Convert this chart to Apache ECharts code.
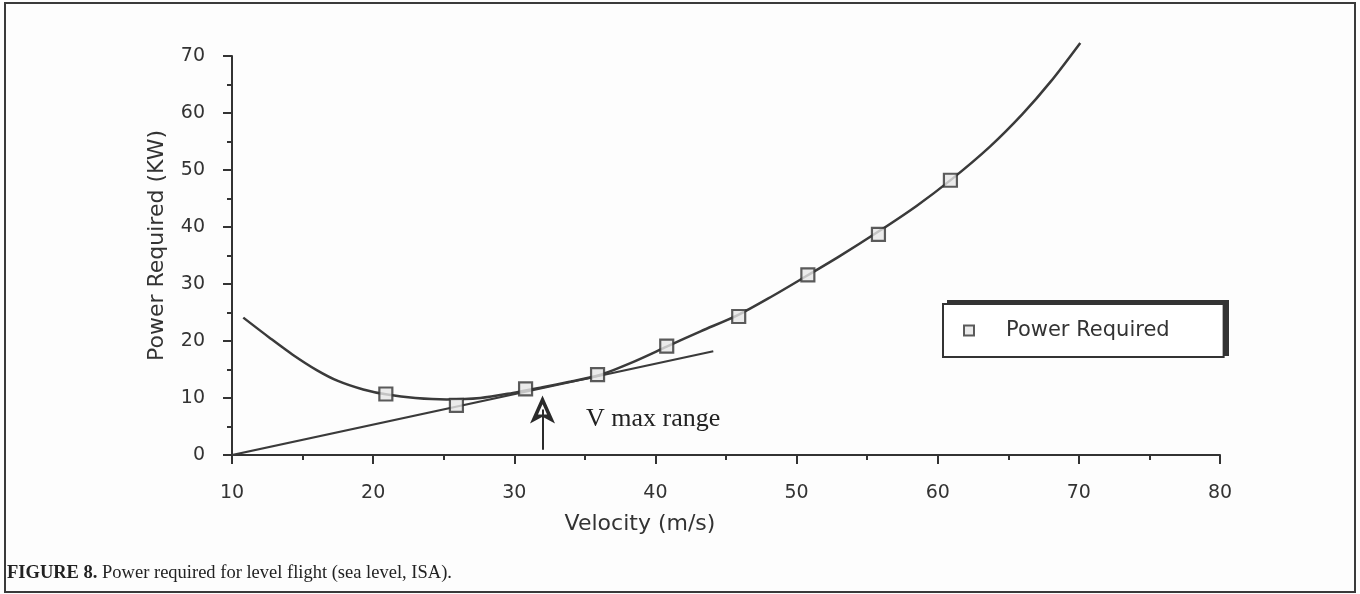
<!DOCTYPE html>
<html>
<head>
<meta charset="UTF-8" />
<script src="https://cdn.jsdelivr.net/npm/echarts@6/dist/echarts.min.js"></script>
<style>
  html, body { margin: 0; padding: 0; background: #fdfdfd; }
  #chart { width: 1360px; height: 594px; }
</style>
</head>
<body>
<div id="chart"></div>
<script>
// measured points (velocity m/s, power kW)
const pointV = [20.9, 25.9, 30.8, 35.9, 40.8, 45.9, 50.8, 55.8, 60.9];
const pointP = [10.7, 8.7, 11.6, 14.1, 19.1, 24.3, 31.6, 38.7, 48.2];

// fitted power-required curve, traced
const curveV = [10.8, 12.7, 14.3, 16.0, 17.5, 19.3, 21.0, 23.0, 25.2, 27.6, 29.9, 32.0, 34.0, 36.0, 38.4,
  40.8, 43.2, 45.8, 48.3, 50.7, 53.0, 55.8, 58.5, 61.0, 63.7, 66.0, 68.0, 70.1];
const curveP = [24.1, 20.5, 17.6, 14.9, 13.0, 11.5, 10.6, 10.0, 9.75, 10.0, 10.9, 11.9, 12.9, 14.0, 16.3,
  19.0, 21.7, 24.5, 27.9, 31.4, 34.8, 39.2, 43.7, 48.4, 54.1, 59.8, 65.5, 72.3];

// tangent from origin (max range)
const tangentV = [10.0, 44.1];
const tangentP = [0.0, 18.2];

// V max range arrow (shaft start, arrowhead centre)
const arrowV = 32.0;
const arrowFrom = 0.9;
const arrowTo = 8.0;

const xTicks = { min: 10, max: 80, interval: 10 };
const yTicks = { min: 0, max: 70, interval: 10 };

const INK = '#333';
const SANS = '"DejaVu Sans", sans-serif';
const SERIF = '"Liberation Serif", "DejaVu Serif", serif';

const zip = (a, b) => a.map((v, i) => [v, b[i]]);

const chart = echarts.init(document.getElementById('chart'));
chart.setOption({
  backgroundColor: '#fdfdfd',
  animation: false,
  grid: { left: 232, right: 140, top: 56, bottom: 139 },
  legend: {
    data: ['Power Required'],
    left: 943,
    top: 304,
    z: 5,
    padding: [16, 54, 16, 20],
    itemWidth: 10,
    itemHeight: 10,
    backgroundColor: '#fff',
    borderColor: INK,
    borderWidth: 2,
    textStyle: { fontFamily: SANS, fontSize: 21, color: INK, padding: [0, 0, 0, 27] }
  },
  xAxis: {
    type: 'value',
    min: xTicks.min,
    max: xTicks.max,
    interval: xTicks.interval,
    name: 'Velocity (m/s)',
    nameLocation: 'middle',
    nameGap: 58,
    nameTextStyle: { fontFamily: SANS, fontSize: 22, color: INK, padding: [0, 172, 0, 0] },
    axisLine: { lineStyle: { color: INK, width: 2 } },
    axisTick: { show: true, length: 9, lineStyle: { color: INK, width: 2 } },
    minorTick: { show: true, splitNumber: 2, length: 5, lineStyle: { color: INK, width: 2 } },
    axisLabel: { margin: 29, fontFamily: SANS, fontSize: 19, color: INK },
    splitLine: { show: false }
  },
  yAxis: {
    type: 'value',
    min: yTicks.min,
    max: yTicks.max,
    interval: yTicks.interval,
    name: 'Power Required (KW)',
    nameLocation: 'middle',
    nameGap: 64,
    nameTextStyle: { fontFamily: SANS, fontSize: 22, color: INK, padding: [0, 0, 0, 20] },
    axisLine: { show: true, lineStyle: { color: INK, width: 2 } },
    axisTick: { show: true, length: 9, lineStyle: { color: INK, width: 2 } },
    minorTick: { show: true, splitNumber: 2, length: 5, lineStyle: { color: INK, width: 2 } },
    axisLabel: { margin: 27, fontFamily: SANS, fontSize: 19, color: INK },
    splitLine: { show: false }
  },
  series: [
    {
      name: 'curve',
      type: 'line',
      data: zip(curveV, curveP),
      smooth: 0.3,
      showSymbol: false,
      clip: false,
      lineStyle: { color: '#3a3a3a', width: 2.5 },
      z: 2
    },
    {
      name: 'tangent',
      type: 'line',
      data: zip(tangentV, tangentP),
      showSymbol: false,
      lineStyle: { color: '#3a3a3a', width: 2.2 },
      markLine: {
        silent: true,
        symbol: ['none', 'path://M11,0 L22,25 L11,19 L0,25 Z M11,8 L7,17 L15,17 Z'],
        symbolSize: [25, 28],
        label: { show: false },
        lineStyle: { color: '#2a2a2a', width: 2, type: 'solid' },
        data: [[{ coord: [arrowV, arrowFrom] }, { coord: [arrowV, arrowTo] }]]
      },
      z: 2
    },
    {
      name: 'Power Required',
      type: 'scatter',
      data: zip(pointV, pointP),
      symbol: 'rect',
      symbolSize: 13,
      itemStyle: { color: '#e6e6e6', borderColor: '#333', borderWidth: 2.2 },
      z: 3
    }
  ],
  graphic: [
    {
      type: 'rect',
      silent: true,
      z: -1,
      shape: { x: 5, y: 3, width: 1350, height: 589 },
      style: { fill: 'none', stroke: '#3a3a3a', lineWidth: 2 }
    },
    {
      // legend drop shadow (thick top and right edge)
      type: 'rect',
      silent: true,
      z: 4,
      shape: { x: 947, y: 300, width: 282, height: 56 },
      style: { fill: '#333' }
    },
    {
      type: 'text',
      left: 586,
      top: 406,
      style: { text: 'V max range', font: '26px ' + SERIF, fill: '#222' }
    },
    {
      type: 'text',
      left: 7,
      top: 564,
      style: {
        text: '{b|FIGURE 8.} Power required for level flight (sea level, ISA).',
        font: '18.5px ' + SERIF,
        fill: '#222',
        rich: { b: { fontFamily: SERIF, fontSize: 18.5, fontWeight: 'bold', fill: '#222' } }
      }
    }
  ]
});
</script>
</body>
</html>
